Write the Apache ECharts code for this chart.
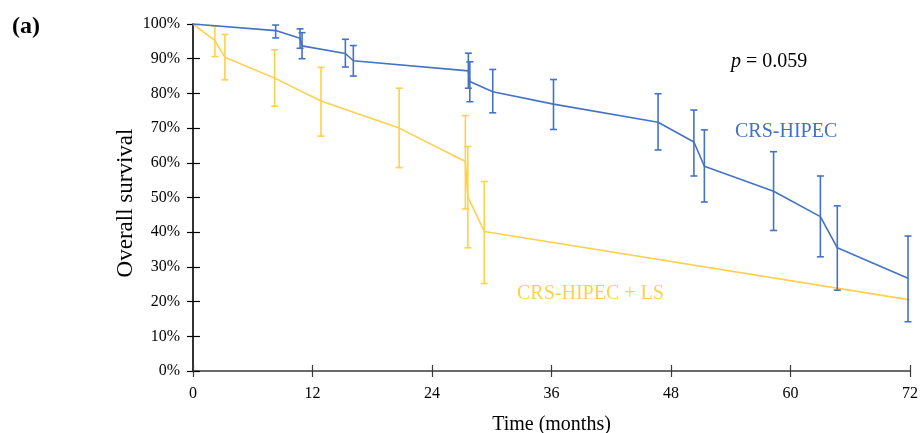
<!DOCTYPE html>
<html>
<head>
<meta charset="utf-8">
<script src="https://cdn.jsdelivr.net/npm/echarts@6/dist/echarts.min.js"></script>
<style>
html,body{margin:0;padding:0;background:#fff;}
#chart{width:921px;height:433px;}
</style>
</head>
<body>
<div id="chart"></div>
<script>
// ---- Data ----
const xTicks = [0, 12, 24, 36, 48, 60, 72];
const yTicks = [0, 10, 20, 30, 40, 50, 60, 70, 80, 90, 100];

// CRS-HIPEC
const crsMonths   = [0, 8.3, 10.75, 10.95, 15.3, 16.1, 27.65, 27.8, 30.1, 36.2, 46.7, 50.3, 51.35, 58.3, 63.0, 64.7, 71.8];
const crsSurvival = [100, 98.1, 95.9, 93.7, 91.5, 89.4, 86.5, 83.4, 80.5, 76.9, 71.7, 66.0, 59.0, 51.8, 44.5, 35.5, 26.7];
const crsLow      = [null, 96.0, 93.0, 90.0, 87.6, 85.0, 81.5, 77.6, 74.4, 69.6, 63.7, 56.2, 48.7, 40.5, 32.9, 23.3, 14.2];
const crsHigh     = [null, 99.7, 98.6, 97.5, 95.6, 93.8, 91.6, 89.1, 86.9, 84.0, 79.9, 75.2, 69.5, 63.2, 56.2, 47.6, 38.9];

// CRS-HIPEC + LS
const lsMonths   = [0, 2.2, 3.2, 8.2, 12.85, 20.7, 27.35, 27.6, 29.25, 72];
const lsSurvival = [100, 95.2, 90.4, 84.4, 77.8, 70.0, 60.4, 50.2, 40.2, 20.5];
const lsLow      = [null, 90.6, 83.9, 76.3, 67.7, 58.6, 46.7, 35.5, 25.2, null];
const lsHigh     = [null, 99.4, 97.0, 92.6, 87.5, 81.5, 73.6, 64.7, 54.6, null];

const seriesNames = ['CRS-HIPEC', 'CRS-HIPEC + LS'];
const pText = '0.059';

// ---- Styling ----
const BLUE = '#4472C4';
const GOLD = '#FFD04D';
const FONT = "'Liberation Serif', 'Times New Roman', serif";

function linePoints(xs, ys) { return xs.map((x, i) => [x, ys[i]]); }
function errPoints(xs, lo, hi) {
  const out = [];
  xs.forEach((x, i) => { if (lo[i] != null && hi[i] != null) out.push([x, lo[i], hi[i]]); });
  return out;
}
function errRender(color) {
  return function (params, api) {
    const x = api.value(0);
    const pLo = api.coord([x, api.value(1)]);
    const pHi = api.coord([x, api.value(2)]);
    const hw = 3.5;
    const st = { stroke: color, lineWidth: 1.6 };
    return {
      type: 'group',
      children: [
        { type: 'line', shape: { x1: pLo[0], y1: pLo[1], x2: pHi[0], y2: pHi[1] }, style: st },
        { type: 'line', shape: { x1: pLo[0] - hw, y1: pLo[1], x2: pLo[0] + hw, y2: pLo[1] }, style: st },
        { type: 'line', shape: { x1: pHi[0] - hw, y1: pHi[1], x2: pHi[0] + hw, y2: pHi[1] }, style: st }
      ]
    };
  };
}

const chart = echarts.init(document.getElementById('chart'), null, { renderer: 'canvas' });

const option = {
  animation: false,
  backgroundColor: '#fff',
  textStyle: { fontFamily: FONT },
  title: {
    text: '(a)', left: 7, top: 10,
    textStyle: { fontFamily: FONT, fontWeight: 'bold', fontSize: 24, color: '#000' }
  },
  grid: { left: 193, right: 11, top: 24, bottom: 62, containLabel: false, outerBoundsMode: 'none' },
  xAxis: [
    {
      type: 'value', min: xTicks[0], max: xTicks[xTicks.length - 1], interval: 12,
      position: 'bottom',
      name: 'Time (months)', nameLocation: 'middle', nameGap: 44, nameMoveOverlap: false,
      nameTextStyle: { fontFamily: FONT, fontSize: 20, color: '#000' },
      axisLine: { show: true, lineStyle: { color: '#3a3a3a', width: 1.6 } },
      axisTick: { show: true, inside: false, length: 6, lineStyle: { color: '#3a3a3a', width: 1.2 } },
      axisLabel: { fontFamily: FONT, fontSize: 16, color: '#000', margin: 15 },
      splitLine: { show: false }
    },
    {
      type: 'value', min: xTicks[0], max: xTicks[xTicks.length - 1], interval: 12,
      position: 'bottom',
      axisLine: { show: false },
      axisTick: { show: true, inside: true, length: 6, lineStyle: { color: '#3a3a3a', width: 1.2 } },
      axisLabel: { show: false },
      splitLine: { show: false }
    }
  ],
  yAxis: [
    {
      type: 'value', min: yTicks[0], max: yTicks[yTicks.length - 1], interval: 10,
      position: 'left',
      name: 'Overall survival', nameLocation: 'middle', nameGap: 56, nameRotate: 90, nameMoveOverlap: false,
      nameTextStyle: { fontFamily: FONT, fontSize: 23, color: '#000', padding: [0, 11, 0, 0] },
      axisLine: { show: true, lineStyle: { color: '#000', width: 1.6 } },
      axisTick: { show: true, inside: false, length: 6, lineStyle: { color: '#000', width: 1.2 } },
      axisLabel: { fontFamily: FONT, fontSize: 16, color: '#000', margin: 13, formatter: '{value}%' },
      splitLine: { show: false }
    },
    {
      type: 'value', min: yTicks[0], max: yTicks[yTicks.length - 1], interval: 10,
      position: 'left',
      axisLine: { show: false },
      axisTick: { show: true, inside: true, length: 7, lineStyle: { color: '#000', width: 1.2 } },
      axisLabel: { show: false },
      splitLine: { show: false }
    }
  ],
  series: [
    {
      name: seriesNames[1], type: 'line', xAxisIndex: 0, yAxisIndex: 0,
      data: linePoints(lsMonths, lsSurvival),
      showSymbol: false, lineStyle: { color: GOLD, width: 1.6 }, z: 2
    },
    {
      name: seriesNames[1] + ' CI', type: 'custom', xAxisIndex: 0, yAxisIndex: 0,
      data: errPoints(lsMonths, lsLow, lsHigh),
      renderItem: errRender(GOLD), encode: { x: 0, y: [1, 2] }, z: 2
    },
    {
      name: seriesNames[0], type: 'line', xAxisIndex: 0, yAxisIndex: 0,
      data: linePoints(crsMonths, crsSurvival),
      showSymbol: false, lineStyle: { color: BLUE, width: 1.6 }, z: 3
    },
    {
      name: seriesNames[0] + ' CI', type: 'custom', xAxisIndex: 0, yAxisIndex: 0,
      data: errPoints(crsMonths, crsLow, crsHigh),
      renderItem: errRender(BLUE), encode: { x: 0, y: [1, 2] }, z: 3
    }
  ],
  graphic: [
    {
      type: 'text', left: 731, top: 52,
      style: {
        text: '{i|p} = ' + pText,
        rich: { i: { fontStyle: 'italic', fontFamily: FONT, fontSize: 20, fill: '#000' } },
        fontFamily: FONT, fontSize: 20, fill: '#000'
      }
    },
    {
      type: 'text', left: 735, top: 122,
      style: { text: seriesNames[0], fontFamily: FONT, fontSize: 20, fill: BLUE }
    },
    {
      type: 'text', left: 517, top: 284,
      style: { text: seriesNames[1], fontFamily: FONT, fontSize: 20, fill: GOLD }
    }
  ]
};
chart.setOption(option);
</script>
</body>
</html>
